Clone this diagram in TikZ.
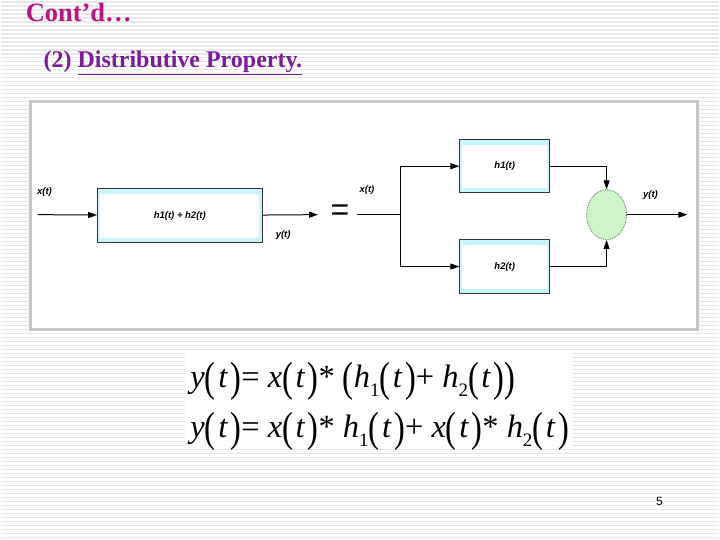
\documentclass[tikz,border=0pt]{standalone}
\usepackage{fontspec}
\usepackage{graphicx}
\setmainfont{Liberation Serif}
\newfontfamily\arialfont{Liberation Sans}
\usetikzlibrary{arrows.meta,positioning,shapes.geometric}

\definecolor{titlemag}{HTML}{BA1480}
\definecolor{subpurple}{HTML}{7A1C9C}
\definecolor{boxcyan}{HTML}{C9F6FB}
\definecolor{sumgreen}{HTML}{CDF5C9}

% tall brackets for the equations
\newcommand{\lp}{\raisebox{-0.12em}{\scalebox{1}[1.3]{(}}}
\newcommand{\rp}{\raisebox{-0.12em}{\scalebox{1}[1.3]{)}}}
\newcommand{\of}[1]{\lp\kern0.08em\textit{#1}\kern0.08em\rp}
\newcommand{\subs}[1]{\raisebox{-0.28em}{\fontsize{19}{19}\selectfont #1}}

\begin{document}
\begin{tikzpicture}[x=1pt, y=-1pt,
  stripe/.style={draw=black!9, line width=1.2pt},
  framebox/.style={draw=black!22, line width=3pt, fill=white},
  hbox/.style={rectangle, draw=black!80, line width=0.8pt, fill=boxcyan,
    inner sep=0pt,
    path picture={\fill[white]
      ([xshift=2.5pt,yshift=-5pt]path picture bounding box.north west) rectangle
      ([xshift=-3pt,yshift=5pt]path picture bounding box.south east);}},
  sumnode/.style={ellipse, draw=black!60, densely dotted, line width=0.8pt,
    fill=sumgreen, minimum width=40pt, minimum height=50pt, inner sep=0pt},
  lbl/.style={font=\arialfont\bfseries\itshape\fontsize{9.5}{10}\selectfont},
  sig/.style={-{Triangle[length=9pt,width=6pt]}, line width=1pt},
  wire/.style={line width=1pt},
  eqn/.style={font=\fontsize{32.5}{34}\selectfont, anchor=base west, inner sep=0pt},
]
% slide background
\fill[white] (0,0) rectangle (720,540);
\foreach \y in {2,6,...,538} \draw[stripe] (0,\y) -- (720,\y);
\useasboundingbox (0,0) rectangle (720,540);

% heading
\node[anchor=base west, inner sep=0pt, text=titlemag,
  font=\bfseries\fontsize{26.5}{28}\selectfont] (title) at (25,22) {Cont’d…};
\node[anchor=base west, inner sep=0pt, text=subpurple,
  font=\bfseries\fontsize{24}{26}\selectfont] (sub) at (43,68)
  {(2) \underline{Distributive Property.}};

% figure frame
\draw[framebox] (30,102) rectangle (698,330);

% left system
\coordinate (xin) at (37,215);
\node[hbox, lbl, minimum width=165pt, minimum height=54pt] (hsum) at (179.5,216)
  {h1(t) + h2(t)};
\coordinate (yout) at (318,215);
\node[lbl] (xl1) at (44,192) {x(t)};
\node[lbl] (yl1) at (283,235) {y(t)};
\draw[sig] (xin) -- (hsum);
\draw[sig] (hsum) -- (yout);

\node[font=\arialfont\fontsize{32}{32}\selectfont] (eq) at (340,213) {=};

% parallel system
\coordinate (xin2) at (357,215);
\coordinate (split) at (401,215);
\node[hbox, lbl, minimum width=90pt, minimum height=53pt] (h1) at (505,166.5) {h1(t)};
\node[hbox, lbl, minimum width=90pt, minimum height=54pt] (h2) at (505,267) {h2(t)};
\node[sumnode] (sum) at (607,215) {};
\coordinate (yend) at (688,215);
\node[lbl] (xl2) at (367,190) {x(t)};
\node[lbl] (yl2) at (651,195) {y(t)};
\draw[wire] (xin2) -- (split);
\draw[sig] (split) |- (h1);
\draw[sig] (split) |- (h2);
\draw[sig] (h1) -| (sum);
\draw[sig] (h2) -| (sum);
\draw[sig] (sum) -- (yend);

% equations
\fill[white] (185,352) rectangle (572,450);
\node[eqn] (eq1) at (190,388)
  {\textit{y}\of{t}= \textit{x}\of{t}* \lp\textit{h}\subs{1}\of{t}+ \textit{h}\subs{2}\of{t}\rp};
\node[eqn] (eq2) at (190,438)
  {\textit{y}\of{t}= \textit{x}\of{t}* \textit{h}\subs{1}\of{t}+ \textit{x}\of{t}* \textit{h}\subs{2}\of{t}};

% page number
\node[font=\arialfont\fontsize{12}{12}\selectfont] (pg) at (660,502) {5};
\end{tikzpicture}
\end{document}
